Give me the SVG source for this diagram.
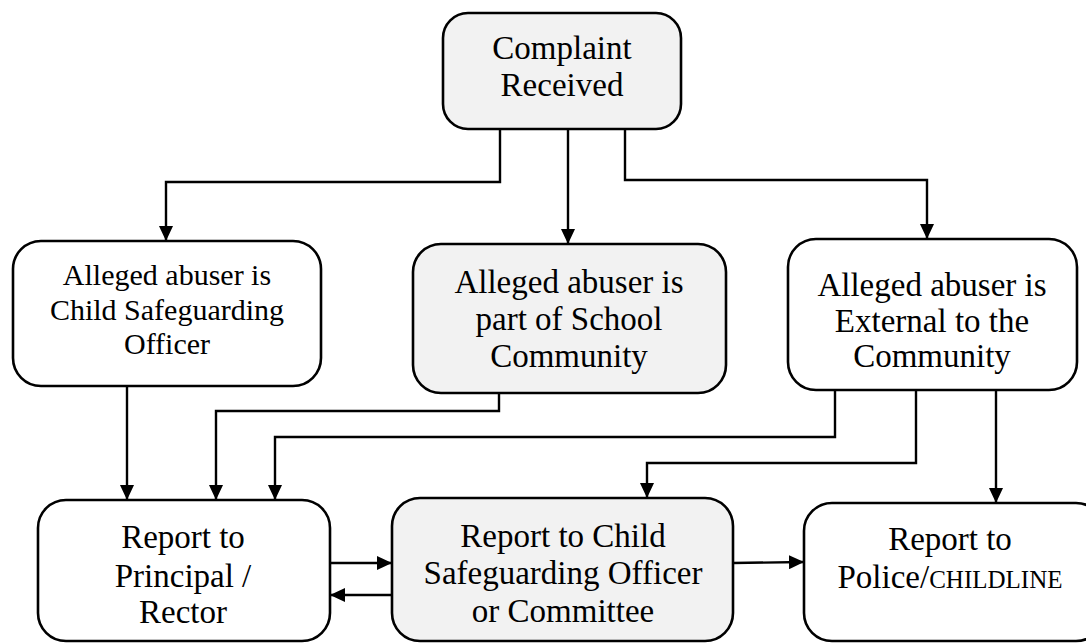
<svg xmlns="http://www.w3.org/2000/svg" width="1086" height="643" viewBox="0 0 1086 643">
<style>
.box{stroke:#000;stroke-width:2.6}
.w{fill:#ffffff}
.g{fill:#f2f2f2}
.t{font-family:"Liberation Serif","Times New Roman",serif;font-size:33px;fill:#000;text-anchor:middle}
.s{font-size:30px}
.c{font-size:25px}
.ln{fill:none;stroke:#000;stroke-width:2.4;marker-end:url(#ah)}
</style>
<defs>
<marker id="ah" markerUnits="userSpaceOnUse" markerWidth="15" markerHeight="14" refX="15" refY="7" orient="auto">
<path d="M0,0 L15,7 L0,14 z" fill="#000"/>
</marker>
</defs>
<rect width="1086" height="643" fill="#fff"/>
<g id="connectors">
<path class="ln" d="M500,129 V182 H166 V241"/>
<path class="ln" d="M568,129 V244"/>
<path class="ln" d="M625,129 V180 H927 V239"/>
<path class="ln" d="M127,386 V500"/>
<path class="ln" d="M499,393 V411 H216 V500"/>
<path class="ln" d="M835,390 V437 H275 V500"/>
<path class="ln" d="M916,390 V463 H647 V498"/>
<path class="ln" d="M996,390 V503"/>
<path class="ln" d="M330,563 H392"/>
<path class="ln" d="M397,595 H330"/>
<path class="ln" d="M733,563 L804,562"/>
</g>
<g id="complaint">
<rect class="box g" x="443" y="13" width="238" height="116" rx="25"/>
<text class="t" x="562" y="59">Complaint</text>
<text class="t" x="562" y="96">Received</text>
</g>
<g id="cso">
<rect class="box w" x="13" y="241" width="308" height="145" rx="28"/>
<text class="t s" x="167" y="285">Alleged abuser is</text>
<text class="t s" x="167" y="320">Child Safeguarding</text>
<text class="t s" x="167" y="354">Officer</text>
</g>
<g id="school">
<rect class="box g" x="413" y="244" width="313" height="149" rx="28"/>
<text class="t" x="569" y="293">Alleged abuser is</text>
<text class="t" x="569" y="330">part of School</text>
<text class="t" x="569" y="367">Community</text>
</g>
<g id="external">
<rect class="box w" x="788" y="239" width="289" height="151" rx="28"/>
<text class="t" x="932" y="296">Alleged abuser is</text>
<text class="t" x="932" y="332">External to the</text>
<text class="t" x="932" y="367">Community</text>
</g>
<g id="principal">
<rect class="box w" x="38" y="500" width="292" height="141" rx="28"/>
<text class="t" x="183" y="548">Report to</text>
<text class="t" x="183" y="587">Principal /</text>
<text class="t" x="183" y="623">Rector</text>
</g>
<g id="committee">
<rect class="box g" x="392" y="498" width="341" height="143" rx="28"/>
<text class="t" x="563" y="547">Report to Child</text>
<text class="t" x="563" y="584">Safeguarding Officer</text>
<text class="t" x="563" y="622">or Committee</text>
</g>
<g id="police">
<rect class="box w" x="804" y="503" width="300" height="138" rx="28"/>
<text class="t" x="950" y="550">Report to</text>
<text class="t" x="950" y="588">Police/<tspan class="c">CHILDLINE</tspan></text>
</g>
</svg>
